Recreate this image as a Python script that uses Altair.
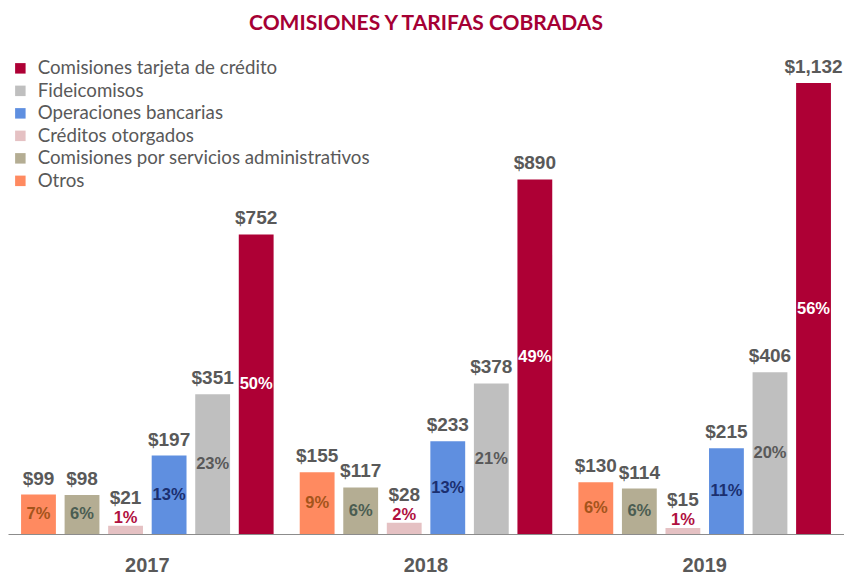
import altair as alt
import pandas as pd

years = ["2017", "2018", "2019"]
categories = [
    "Otros",
    "Comisiones por servicios administrativos",
    "Créditos otorgados",
    "Operaciones bancarias",
    "Fideicomisos",
    "Comisiones tarjeta de crédito",
]
legend_order = [
    "Comisiones tarjeta de crédito",
    "Fideicomisos",
    "Operaciones bancarias",
    "Créditos otorgados",
    "Comisiones por servicios administrativos",
    "Otros",
]
values_2017 = [99, 98, 21, 197, 351, 752]
values_2018 = [155, 117, 28, 233, 378, 890]
values_2019 = [130, 114, 15, 215, 406, 1132]
pct_2017 = [7, 6, 1, 13, 23, 50]
pct_2018 = [9, 6, 2, 13, 21, 49]
pct_2019 = [6, 6, 1, 11, 20, 56]

bar_colors = {
    "Comisiones tarjeta de crédito": "#AE0035",
    "Fideicomisos": "#BFBFBF",
    "Operaciones bancarias": "#5F8FE0",
    "Créditos otorgados": "#E5C1C3",
    "Comisiones por servicios administrativos": "#B4AD93",
    "Otros": "#FF8A60",
}
pct_colors = {
    "Otros": "#A4541B",
    "Comisiones por servicios administrativos": "#4B5D52",
    "Créditos otorgados": "#B0103F",
    "Operaciones bancarias": "#1B2F70",
    "Fideicomisos": "#595959",
    "Comisiones tarjeta de crédito": "#FFFFFF",
}

rows = []
for yr, vals, pcts in zip(years, [values_2017, values_2018, values_2019], [pct_2017, pct_2018, pct_2019]):
    for c, v, p in zip(categories, vals, pcts):
        rows.append({"year": yr, "cat": c, "value": v, "mid": v / 2,
                     "val_label": f"${v:,}", "pct_label": f"{p}%"})
df = pd.DataFrame(rows)

CRED = "Créditos otorgados"
x_enc = alt.X("year:N", scale=alt.Scale(paddingInner=0, paddingOuter=0),
              axis=alt.Axis(title=None, labelAngle=0, ticks=False, tickSize=0,
                            labelFont="Liberation Sans", labelFontSize=20,
                            labelFontWeight="bold", labelColor="#595959",
                            labelPadding=21, domainColor="#8C8C8C", domainWidth=1))
xo_enc = alt.XOffset("cat:N", sort=categories,
                     scale=alt.Scale(paddingInner=0.2, paddingOuter=0.3))
y_scale = alt.Scale(domain=[0, 1240], nice=False)

base = alt.Chart(df)

bars = base.mark_bar().encode(
    x=x_enc, xOffset=xo_enc,
    y=alt.Y("value:Q", scale=y_scale, axis=None),
    color=alt.Color("cat:N", scale=alt.Scale(domain=legend_order,
                                              range=[bar_colors[c] for c in legend_order]),
                    legend=alt.Legend(title=None, orient="none", legendX=3, legendY=19,
                                      symbolType="square", symbolSize=110,
                                      symbolStrokeWidth=0, labelFont="Lato",
                                      labelFontSize=18.7, labelColor="#595959",
                                      labelOffset=8, rowPadding=2.5, padding=0,
                                      labelLimit=500)),
)

val_text = base.transform_filter(alt.datum.cat != CRED).mark_text(
    font="Liberation Sans", fontSize=19, fontWeight="bold", color="#595959",
    baseline="middle", dy=-16).encode(
    x=x_enc, xOffset=xo_enc, y=alt.Y("value:Q", scale=y_scale, axis=None),
    text="val_label:N")

val_text_cred = base.transform_filter(alt.datum.cat == CRED).mark_text(
    font="Liberation Sans", fontSize=19, fontWeight="bold", color="#595959",
    baseline="middle", dy=-28).encode(
    x=x_enc, xOffset=xo_enc, y=alt.Y("value:Q", scale=y_scale, axis=None),
    text="val_label:N")

pct_text = base.transform_filter(alt.datum.cat != CRED).mark_text(
    font="Liberation Sans", fontSize=16.5, fontWeight="bold",
    baseline="middle").encode(
    x=x_enc, xOffset=xo_enc, y=alt.Y("mid:Q", scale=y_scale, axis=None),
    text="pct_label:N",
    color=alt.Color("cat:N", scale=alt.Scale(domain=categories,
                                              range=[pct_colors[c] for c in categories]),
                    legend=None))

pct_text_cred = base.transform_filter(alt.datum.cat == CRED).mark_text(
    font="Liberation Sans", fontSize=16.5, fontWeight="bold", color="#B0103F",
    baseline="middle", dy=-8).encode(
    x=x_enc, xOffset=xo_enc, y=alt.Y("value:Q", scale=y_scale, axis=None),
    text="pct_label:N")

chart = alt.layer(bars, val_text, val_text_cred, pct_text, pct_text_cred).resolve_scale(
    color="independent"
).properties(
    width=836, height=494,
    title=alt.TitleParams("COMISIONES Y TARIFAS COBRADAS", font="Lato", fontSize=21,
                          fontWeight="bold", color="#A50034", anchor="middle", offset=6),
    autosize=alt.AutoSizeParams(type="none"),
    padding={"left": 0, "top": 32, "right": 0, "bottom": 42},
).configure_view(stroke=None)

chart.save("out.html", embed_options={"renderer": "svg", "actions": False})
